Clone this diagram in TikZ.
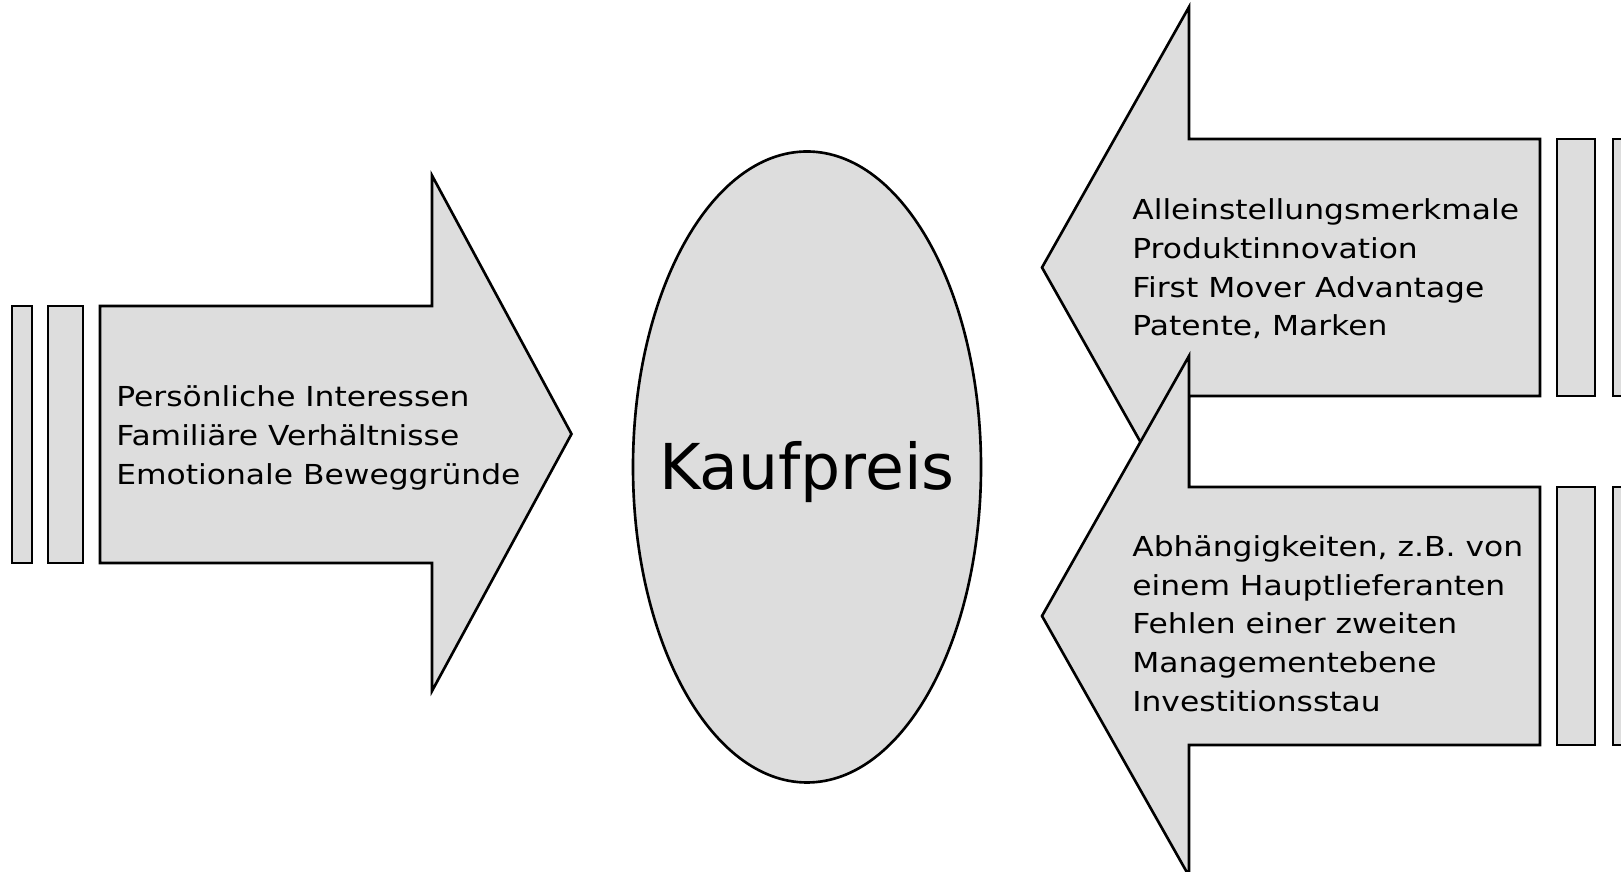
\documentclass[tikz,border=0pt]{standalone}
\usepackage{fontspec}
\setmainfont{DejaVu Sans}
\newfontfamily\boxfont{DejaVu Sans}[FakeStretch=1.14]
\usetikzlibrary{shapes.geometric}
\definecolor{boxgray}{RGB}{221,221,221}

\tikzset{
  shapebox/.style={draw=black,fill=boxgray,line width=1.5pt},
  boxtext/.style={font=\boxfont\fontsize{15.65}{22}\selectfont,align=left,inner sep=0pt,anchor=west},
}

\begin{document}
\begin{tikzpicture}
\useasboundingbox (0,0) rectangle (32.42,17.44);

% ============ left: personal side ============
\begin{scope}
\foreach \xa/\xb in {0.24/0.64,0.96/1.66}{
  \draw[shapebox] (\xa,6.18) rectangle (\xb,11.32);
}
\draw[shapebox] (2.00,6.18) -- (2.00,11.32) -- (8.64,11.32) -- (8.64,13.93) -- (11.43,8.76) -- (8.64,3.62) -- (8.64,6.18) -- cycle;
\node[boxtext] (persoenlich) at (2.32,8.68) {Persönliche Interessen\\Familiäre Verhältnisse\\Emotionale Beweggründe};
\end{scope}

% ============ middle: price ============
\node[shapebox,ellipse,inner sep=0pt,minimum width=6.96cm,minimum height=12.62cm] (kaufpreis) at (16.14,8.10) {};
\node[font=\fontsize{36}{40}\selectfont,text height=25.5pt,text depth=0pt,inner sep=0pt] (kaufpreistext) at (kaufpreis.center) {Kaufpreis};

% ============ right, top: strengths ============
\begin{scope}
\draw[shapebox] (30.80,9.52) -- (30.80,14.66) -- (23.78,14.66) -- (23.78,17.30) -- (20.84,12.09) -- (23.78,6.88) -- (23.78,9.52) -- cycle;
\foreach \xa/\xb in {31.14/31.90,32.26/33.02}{
  \draw[shapebox] (\xa,9.52) rectangle (\xb,14.66);
}
\node[boxtext] (staerken) at (22.64,12.06) {Alleinstellungsmerkmale\\Produktinnovation\\First Mover Advantage\\Patente, Marken};
\end{scope}

% ============ right, bottom: weaknesses ============
\begin{scope}
\draw[shapebox] (30.80,2.54) -- (30.80,7.70) -- (23.78,7.70) -- (23.78,10.32) -- (20.84,5.12) -- (23.78,-0.08) -- (23.78,2.54) -- cycle;
\foreach \xa/\xb in {31.14/31.90,32.26/33.02}{
  \draw[shapebox] (\xa,2.54) rectangle (\xb,7.70);
}
\node[boxtext] (schwaechen) at (22.64,4.97) {Abhängigkeiten, z.B. von\\einem Hauptlieferanten\\Fehlen einer zweiten\\Managementebene\\Investitionsstau};
\end{scope}

\end{tikzpicture}
\end{document}
